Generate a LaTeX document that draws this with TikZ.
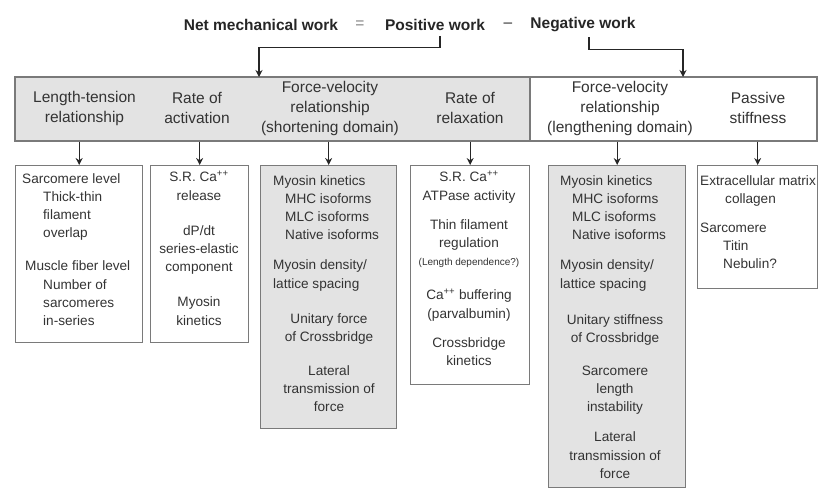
\documentclass[tikz,border=0pt]{standalone}
\usepackage{fontspec}
\setmainfont{Liberation Sans}
\usetikzlibrary{arrows.meta}

\definecolor{boxgray}{HTML}{E3E3E3}
\definecolor{edgegray}{HTML}{7A7A7A}
\definecolor{inkgray}{HTML}{333333}

\tikzset{
  every node/.style={text=inkgray},
  title/.style={font=\fontsize{15.5}{18}\selectfont\bfseries, inner sep=0pt, text=black!85},
  band/.style={draw=edgegray, line width=1.3pt, minimum height=64pt, inner sep=0pt},
  hdr/.style={align=center, font=\fontsize{15.5}{20}\selectfont, inner sep=0pt},
  frame/.style={draw=edgegray, line width=1.3pt, inner sep=0pt, anchor=north west},
  txt/.style={font=\fontsize{13.6}{18.3}\selectfont, inner sep=0pt},
  arr/.style={-{Stealth[length=7pt,width=7pt]}, line width=1.2pt, black!85},
}

\begin{document}
\begin{tikzpicture}[x=1pt, y=-1pt]
        \useasboundingbox (0,0) rectangle (818,488);
        \node[title] (net) at (261,25) {Net mechanical work};
        \node[title, font=\fontsize{15.5}{18}\selectfont, text=black!50] (eq) at (360,25) {=};
        \node[title] (pos) at (435,25) {Positive work};
        \node[title, font=\fontsize{15.5}{18}\selectfont] (minus) at (508,25) {--};
        \node[title] (neg) at (583,25) {Negative work};
        \node[band, fill=boxgray, minimum width=515pt] (posband) at (272.5,109) {};
        \node[band, fill=white, minimum width=287pt] (negband) at (673.5,109) {};
        \coordinate (posin) at (259,77);
        \coordinate (negin) at (683,77);
        \draw[arr] ([xshift=5pt,yshift=-5pt]pos.south) -- ++(0,12) -| (posin);
        \draw[arr] ([xshift=6pt,yshift=-5pt]neg.south) -- ++(0,12) -| (negin);
        \node[hdr] (lt) at (84.5,108) {Length-tension\\relationship};
        \node[hdr] (ract) at (197,108) {Rate of\\activation};
        \node[hdr] (fvs) at (330,108) {Force-velocity\\relationship\\(shortening domain)};
        \node[hdr] (rrel) at (470,108) {Rate of\\relaxation};
        \node[hdr] (fvl) at (620,108) {Force-velocity\\relationship\\(lengthening domain)};
        \node[hdr] (pst) at (758,108) {Passive\\stiffness};
        \node[frame, minimum width=127pt, minimum height=177pt] (box1) at (15,165) {};
        \node[frame, minimum width=98pt, minimum height=177pt] (box2) at (150,165) {};
        \node[frame, fill=boxgray, minimum width=136pt, minimum height=263pt] (box3) at (260,165) {};
        \node[frame, minimum width=119pt, minimum height=219pt] (box4) at (410,165) {};
        \node[frame, fill=boxgray, minimum width=137pt, minimum height=322pt] (box5) at (548,165) {};
        \node[frame, minimum width=120pt, minimum height=123pt] (box6) at (697,165) {};
        \draw[arr] (box1.north |- posband.south) -- (box1.north);
        \draw[arr] (box2.north |- posband.south) -- (box2.north);
        \draw[arr] (box3.north |- posband.south) -- (box3.north);
        \draw[arr] (box4.north |- posband.south) -- (box4.north);
        \draw[arr] (box5.north |- negband.south) -- (box5.north);
        \draw[arr] (box6.north |- negband.south) -- (box6.north);
        \node[txt, align=left, anchor=north west] (sarc) at (22,173) {Sarcomere level\\
          \hspace*{21pt}Thick-thin\\ \hspace*{21pt}filament\\ \hspace*{21pt}overlap\\[14.7pt]
          \hspace*{3pt}Muscle fiber level\\ \hspace*{21pt}Number of\\ \hspace*{21pt}sarcomeres\\ \hspace*{21pt}in-series};
        \node[txt, align=center, anchor=north] (srrel) at (199,171) {S.R. Ca\textsuperscript{++}\\release\\[16.7pt]
          dP/dt\\series-elastic\\component\\[16.7pt] Myosin\\kinetics};
        \node[txt, align=left, anchor=north west] (myos) at (273,175) {Myosin kinetics\\
          \hspace*{12pt}MHC isoforms\\ \hspace*{12pt}MLC isoforms\\ \hspace*{12pt}Native isoforms\\[11.7pt]
          Myosin density/\\lattice spacing};
        \node[txt, align=center, anchor=north] (unif) at (329,313) {Unitary force\\of Crossbridge\\[15.7pt]
          Lateral\\transmission of\\force};
        \node[txt, align=center, anchor=north] (srat) at (469,171) {S.R. Ca\textsuperscript{++}\\ATPase activity\\[10.7pt]
          Thin filament\\regulation\\{\fontsize{10}{18.3}\selectfont (Length dependence?)}\\[15.7pt]
          Ca\textsuperscript{++} buffering\\(parvalbumin)\\[10.7pt] Crossbridge\\kinetics};
        \node[txt, align=left, anchor=north west] (myosl) at (560,175) {Myosin kinetics\\
          \hspace*{12pt}MHC isoforms\\ \hspace*{12pt}MLC isoforms\\ \hspace*{12pt}Native isoforms\\[11.7pt]
          Myosin density/\\lattice spacing};
        \node[txt, align=center, anchor=north] (unis) at (615,314) {Unitary stiffness\\of Crossbridge\\[14.7pt]
          Sarcomere\\length\\instability\\[11.7pt] Lateral\\transmission of\\force};
        \node[txt, align=left, anchor=north west] (ecm) at (700,175) {Extracellular matrix\\
          \hspace*{25pt}collagen\\[10.7pt] Sarcomere\\ \hspace*{23pt}Titin\\ \hspace*{23pt}Nebulin?};
\end{tikzpicture}
\end{document}
